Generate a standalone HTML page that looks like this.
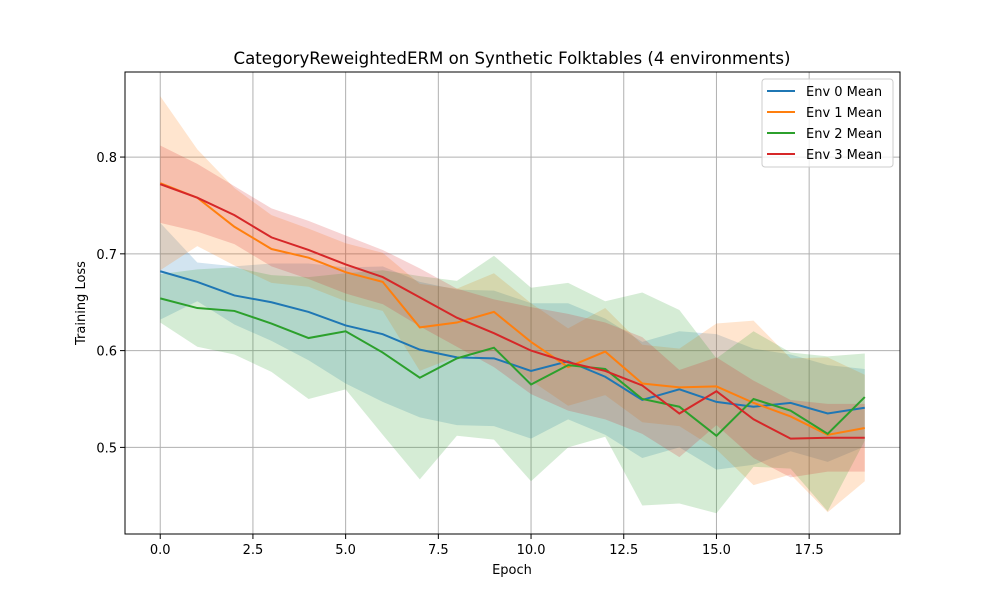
<!DOCTYPE html>
<html><head><meta charset="utf-8"><style>
body{margin:0;background:#fff;font-family:"Liberation Sans","DejaVu Sans",sans-serif}
</style></head><body>
<svg id="chart" width="1000" height="600" xmlns="http://www.w3.org/2000/svg" font-family="DejaVu Sans, Liberation Sans, sans-serif"></svg>
<script>
const epochs=[0,1,2,3,4,5,6,7,8,9,10,11,12,13,14,15,16,17,18,19];
const env0Mean=[0.682,0.671,0.657,0.650,0.640,0.626,0.617,0.601,0.593,0.592,0.579,0.589,0.573,0.549,0.560,0.547,0.542,0.546,0.535,0.541];
const env1Mean=[0.773,0.758,0.728,0.705,0.696,0.681,0.671,0.624,0.629,0.640,0.609,0.583,0.599,0.566,0.562,0.563,0.546,0.532,0.513,0.520];
const env2Mean=[0.654,0.644,0.641,0.628,0.613,0.620,0.598,0.572,0.592,0.603,0.565,0.585,0.581,0.550,0.542,0.512,0.550,0.538,0.514,0.552];
const env3Mean=[0.772,0.758,0.740,0.717,0.704,0.689,0.676,0.655,0.634,0.618,0.600,0.588,0.579,0.564,0.535,0.558,0.529,0.509,0.510,0.510];
const env0Std=[0.05,0.02,0.03,0.04,0.05,0.06,0.07,0.07,0.07,0.07,0.07,0.06,0.06,0.06,0.06,0.07,0.06,0.05,0.05,0.04];
const env1Std=[0.09,0.05,0.04,0.035,0.03,0.03,0.03,0.045,0.035,0.04,0.04,0.04,0.045,0.04,0.04,0.065,0.085,0.06,0.08,0.055];
const env2Std=[0.025,0.04,0.045,0.05,0.063,0.06,0.085,0.105,0.08,0.095,0.1,0.085,0.07,0.11,0.1,0.08,0.07,0.06,0.08,0.045];
const env3Std=[0.04,0.035,0.03,0.03,0.03,0.03,0.028,0.03,0.03,0.035,0.045,0.05,0.05,0.05,0.045,0.035,0.04,0.04,0.035,0.035];
const xTicks=[0,2.5,5,7.5,10,12.5,15,17.5];
const xTickLabels=["0.0","2.5","5.0","7.5","10.0","12.5","15.0","17.5"];
const yTicks=[0.5,0.6,0.7,0.8];
const yTickLabels=["0.5","0.6","0.7","0.8"];
const seriesNames=["Env 0 Mean","Env 1 Mean","Env 2 Mean","Env 3 Mean"];

const NS="http://www.w3.org/2000/svg";
const svg=document.getElementById('chart');
const L=125,R=900,T=72,B=534,X0=-0.95,X1=19.95,Y0=0.4105,Y1=0.8879;
const sx=v=>L+(v-X0)/(X1-X0)*(R-L);
const sy=v=>B-(v-Y0)/(Y1-Y0)*(B-T);
function mk(tag,attrs,parent){const e=document.createElementNS(NS,tag);for(const k in attrs)e.setAttribute(k,attrs[k]);(parent||svg).appendChild(e);return e;}
const colors=["#1f77b4","#ff7f0e","#2ca02c","#d62728"];
const means=[env0Mean,env1Mean,env2Mean,env3Mean];
const stds=[env0Std,env1Std,env2Std,env3Std];

const title=mk('text',{x:512,y:64,'text-anchor':'middle','font-size':16.6,fill:'#000'});


title.textContent="CategoryReweightedERM on Synthetic Folktables (4 environments)";

xTicks.forEach((t,i)=>{
  const g=mk('line',{x1:sx(t),x2:sx(t),y1:T,y2:B,stroke:'#b0b0b0','stroke-width':1});
  
  
  mk('line',{x1:sx(t),x2:sx(t),y1:B,y2:B+5,stroke:'#000'});
  const tx=mk('text',{x:sx(t),y:B+20,'text-anchor':'middle','font-size':13});
  
  
  tx.textContent=xTickLabels[i];
});
yTicks.forEach((t,i)=>{
  const g=mk('line',{x1:L,x2:R,y1:sy(t),y2:sy(t),stroke:'#b0b0b0','stroke-width':1});
  
  
  mk('line',{x1:L-5,x2:L,y1:sy(t),y2:sy(t),stroke:'#000'});
  const tx=mk('text',{x:L-8,y:sy(t)+5,'text-anchor':'end','font-size':13});
  
  
  tx.textContent=yTickLabels[i];
});

means.forEach((m,s)=>{
  let pts=epochs.map((e,i)=>sx(e)+','+sy(m[i]+stds[s][i]));
  pts=pts.concat(epochs.map((e,i)=>sx(e)+','+sy(m[i]-stds[s][i])).reverse());
  const p=mk('polygon',{points:pts.join(' '),fill:colors[s],'fill-opacity':0.2});
  
  
});
means.forEach((m,s)=>{
  const p=mk('polyline',{points:epochs.map((e,i)=>sx(e)+','+sy(m[i])).join(' '),fill:'none',stroke:colors[s],'stroke-width':2});
  
  
});

const frame=mk('rect',{x:L,y:T,width:R-L,height:B-T,fill:'none',stroke:'#000','stroke-width':1});



const xl=mk('text',{x:512,y:574,'text-anchor':'middle','font-size':13});


xl.textContent="Epoch";
const yl=mk('text',{x:85,y:303,'text-anchor':'middle','font-size':13,transform:'rotate(-90 85 303)'});


yl.textContent="Training Loss";

const lg=mk('g',{});


mk('rect',{x:762,y:79,width:131,height:88,rx:3,fill:'#fff','fill-opacity':0.8,stroke:'#ccc'},lg);
seriesNames.forEach((n,s)=>{
  const y=91+s*21;
  const ge=mk('g',{},lg);
  
  
  mk('line',{x1:767,x2:795,y1:y,y2:y,stroke:colors[s],'stroke-width':2},ge);
  const t=mk('text',{x:806,y:y+5,'font-size':13},ge);
  t.textContent=n;
});
</script>
</body></html>
